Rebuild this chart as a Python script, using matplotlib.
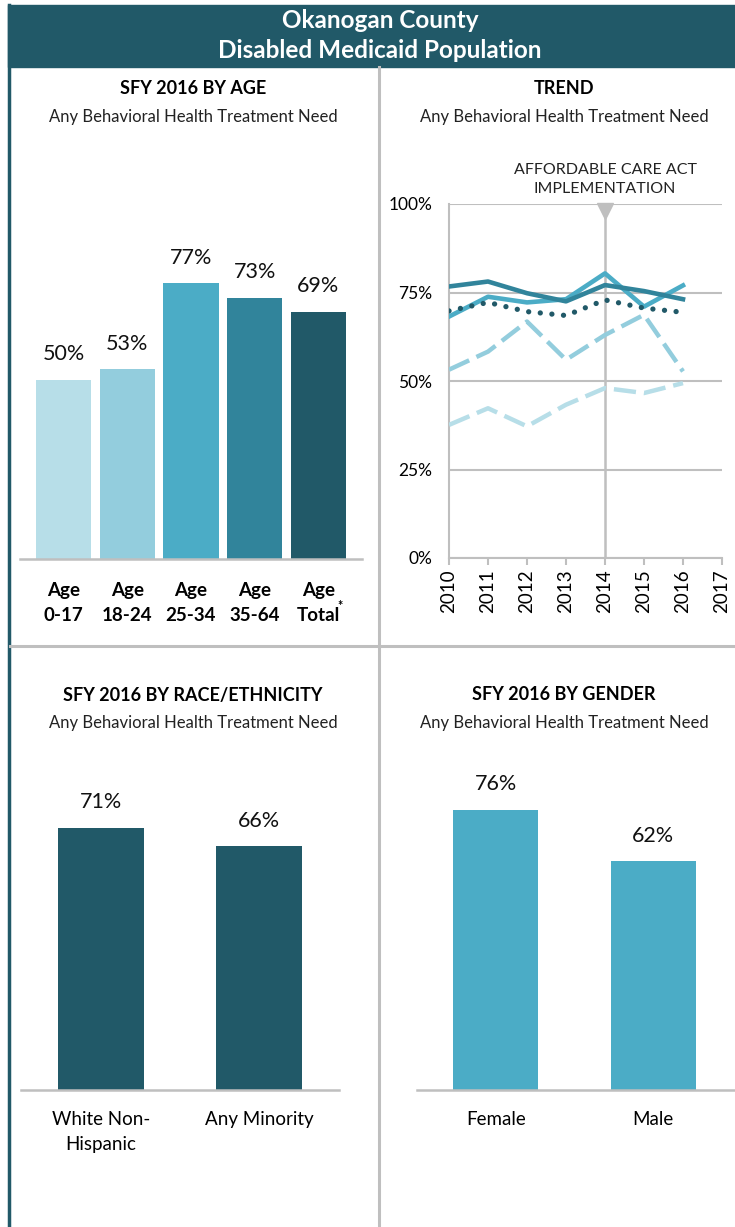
import numpy as np
import matplotlib.pyplot as plt
from matplotlib.lines import Line2D
from matplotlib.patches import Rectangle
from matplotlib.transforms import blended_transform_factory

plt.rcParams['font.family'] = ['Lato', 'DejaVu Sans']

# data
age_labels = ['Age\n0-17', 'Age\n18-24', 'Age\n25-34', 'Age\n35-64', 'Age\nTotal']
age_values = [50, 53, 77, 73, 69]
age_colors = ['#B7DEE8', '#93CDDD', '#4BACC6', '#31849B', '#215968']

years = [2010, 2011, 2012, 2013, 2014, 2015, 2016]
trend_0_17 = [37.6, 42.3, 37.2, 43.3, 48.0, 46.6, 49.4]
trend_18_24 = [53.2, 58.3, 66.8, 56.0, 63.0, 68.7, 52.7]
trend_25_34 = [68.2, 73.8, 72.2, 73.1, 80.4, 71.0, 77.0]
trend_35_64 = [76.7, 78.1, 74.8, 72.5, 77.1, 75.4, 73.1]
trend_total = [69.8, 72.2, 69.6, 68.5, 72.9, 70.6, 69.4]

race_labels = ['White Non-\nHispanic', 'Any Minority']
race_values = [71, 66]
gender_labels = ['Female', 'Male']
gender_values = [76, 62]

DARK = '#215968'
GRID = '#BFBFBF'
W, H = 735, 1227

fig = plt.figure(figsize=(W / 100, H / 100), dpi=100)


def box(x0, y0, x1, y1):
    # pixel box (top-left origin) -> figure fraction
    return [x0 / W, 1 - y1 / H, (x1 - x0) / W, (y1 - y0) / H]


def fx(x):
    return x / W


def fy(y):
    return 1 - y / H


# frame: header band, left border, dividers
fig.patches.append(Rectangle((fx(8), fy(67)), fx(735) - fx(8), fy(5) - fy(67),
                             transform=fig.transFigure, color=DARK, zorder=0))
fig.lines.append(Line2D([fx(8.5), fx(8.5)], [fy(5), fy(1227)], transform=fig.transFigure,
                        color=DARK, lw=2.5))
fig.lines.append(Line2D([fx(378.5), fx(378.5)], [fy(67), fy(1227)], transform=fig.transFigure,
                        color=GRID, lw=2.2))
fig.lines.append(Line2D([fx(10), fx(735)], [fy(645.5), fy(645.5)], transform=fig.transFigure,
                        color=GRID, lw=2.2))

fig.text(fx(380), fy(21), 'Okanogan County', color='white', fontsize=17.5, fontweight='bold',
         ha='center', va='center')
fig.text(fx(380), fy(51), 'Disabled Medicaid Population', color='white', fontsize=17.5,
         fontweight='bold', ha='center', va='center')

sub = 'Any Behavioral Health Treatment Need'
for cx, ty, title in [(193, 89, 'SFY 2016 BY AGE'), (564, 89, 'TREND'),
                      (193, 695, 'SFY 2016 BY RACE/ETHNICITY'), (564, 695, 'SFY 2016 BY GENDER')]:
    fig.text(fx(cx), fy(ty), title, fontsize=13, fontweight='bold', ha='center', va='center',
             color='black')
    fig.text(fx(cx), fy(ty + 28), sub, fontsize=12, ha='center', va='center', color='#222222')


def bar_panel(ax, values, colors, width, xlim, ymax, label_size):
    x = np.arange(len(values))
    ax.bar(x, values, width=width, color=colors, zorder=2)
    ax.set_xlim(*xlim)
    ax.set_ylim(0, ymax)
    for s in ['top', 'right', 'left']:
        ax.spines[s].set_visible(False)
    ax.spines['bottom'].set_color(GRID)
    ax.spines['bottom'].set_linewidth(1.8)
    ax.set_yticks([])
    ax.set_xticks([])
    ax.patch.set_alpha(0)
    for xi, v in zip(x, values):
        ax.annotate(f'{v}%', (xi, v), xytext=(0, 18.5), textcoords='offset points',
                    ha='center', va='center', fontsize=label_size, color='#111111')
    return x


# age panel
ax1 = fig.add_axes(box(20, 201, 362, 559))
xa = bar_panel(ax1, age_values, age_colors, 0.866, (-0.69, 4.69), 100, 15.5)
tr = blended_transform_factory(ax1.transData, ax1.transAxes)
for xi, lab in zip(xa, age_labels):
    ax1.text(xi, -0.064, lab, transform=tr, ha='center', va='top', fontsize=13.5,
             fontweight='bold', linespacing=1.55)
fig.text(fx(340), fy(606), '*', fontsize=9, fontweight='bold', ha='center', va='center')

# trend panel
ax2 = fig.add_axes(box(449, 204, 722, 558))
ax2.plot(years, trend_0_17, color='#B7DEE8', lw=3.2, ls=(0, (5, 1.8)), zorder=3)
ax2.plot(years, trend_18_24, color='#93CDDD', lw=3.2, ls=(0, (5, 1.8)), zorder=3)
ax2.plot(years, trend_25_34, color='#4BACC6', lw=3.3, zorder=4)
ax2.plot(years, trend_35_64, color='#31849B', lw=3.3, zorder=4)
ax2.plot(years, trend_total, color=DARK, lw=3.8, ls=(0, (0.01, 2.2)), dash_capstyle='round',
         solid_capstyle='round', zorder=5)
ax2.set_xlim(2010, 2017)
ax2.set_ylim(0, 100)
ax2.set_yticks([0, 25, 50, 75, 100])
ax2.set_yticklabels([f'{v}%' for v in [0, 25, 50, 75, 100]], fontsize=12.5)
ax2.set_xticks(range(2010, 2018))
ax2.set_xticklabels([str(y) for y in range(2010, 2018)], rotation=90, fontsize=13.5)
ax2.grid(axis='y', color=GRID, lw=1.5, zorder=0)
ax2.tick_params(axis='y', length=0, pad=12)
ax2.tick_params(axis='x', length=5, color=GRID, width=1.5, pad=3)
for s in ['top', 'right']:
    ax2.spines[s].set_visible(False)
for s in ['left', 'bottom']:
    ax2.spines[s].set_color(GRID)
    ax2.spines[s].set_linewidth(1.5)
ax2.axvline(2014, color=GRID, lw=1.8, zorder=1)
ax2.plot([2014], [98], marker='v', markersize=11, color=GRID, clip_on=False, zorder=6)
ax2.text(2014, 102.2, 'AFFORDABLE CARE ACT\nIMPLEMENTATION', ha='center', va='bottom',
         fontsize=11.5, linespacing=1.5, color='#222222')

# race panel
ax3 = fig.add_axes(box(21, 721, 339, 1090))
xr = bar_panel(ax3, race_values, [DARK, DARK], 0.544, (-0.505, 1.505), 100, 15.5)
tr3 = blended_transform_factory(ax3.transData, ax3.transAxes)
for xi, lab in zip(xr, race_labels):
    ax3.text(xi, -0.058, lab, transform=tr3, ha='center', va='top', fontsize=13.5,
             linespacing=1.55)

# gender panel
ax4 = fig.add_axes(box(417, 721, 735, 1090))
xg = bar_panel(ax4, gender_values, ['#4BACC6', '#4BACC6'], 0.54, (-0.5, 1.52), 100, 15.5)
tr4 = blended_transform_factory(ax4.transData, ax4.transAxes)
for xi, lab in zip(xg, gender_labels):
    ax4.text(xi, -0.058, lab, transform=tr4, ha='center', va='top', fontsize=13.5)

fig.savefig('out.png', dpi=100)
